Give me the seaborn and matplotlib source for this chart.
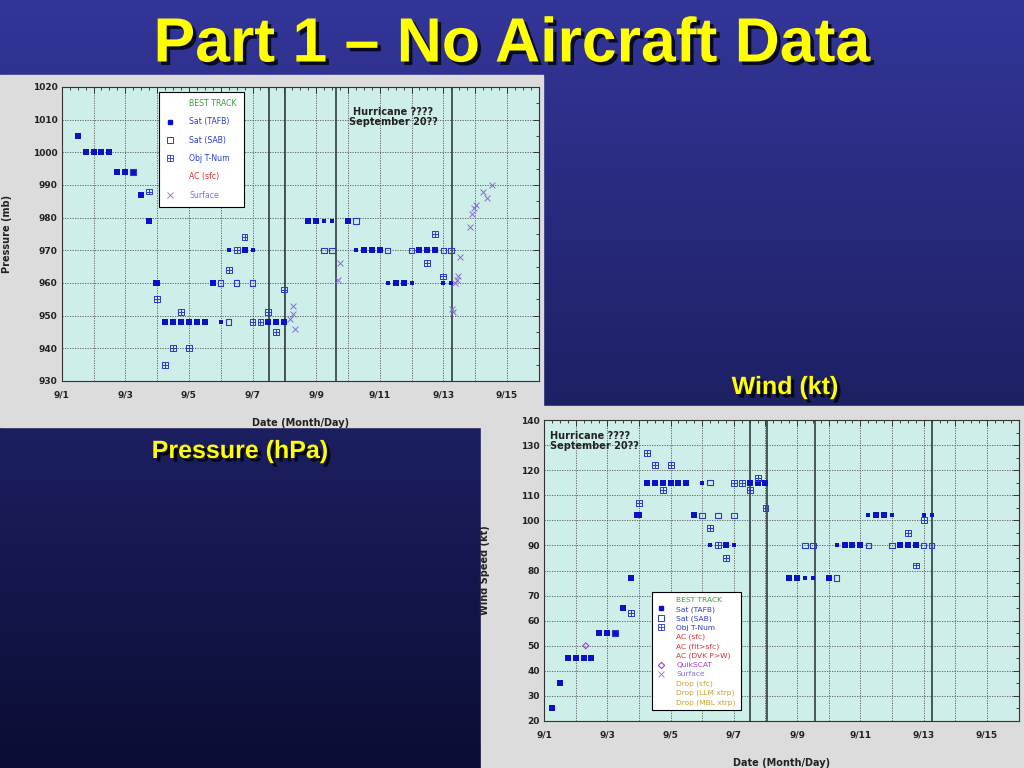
import numpy as np
import matplotlib
matplotlib.use('Agg')
import matplotlib.pyplot as plt
import matplotlib.patheffects as pe
from matplotlib.path import Path
from matplotlib.patches import Rectangle
from matplotlib.lines import Line2D
from matplotlib.ticker import MultipleLocator, FixedLocator, FuncFormatter
import seaborn as sns

sns.set_theme(style='white')
plt.rcParams['font.family'] = ['DejaVu Sans']

# ---- data (day of September, value) ----
# pressure (mb)
p_big_t = [1.5, 1.75, 2.0, 2.25, 2.5, 2.75, 3.0, 3.25, 3.5, 3.75, 3.95, 4.0, 4.25, 4.5, 4.75, 5.0, 5.25, 5.5,
           5.75, 6.75, 7.5, 7.75, 8.0, 8.75, 9.0, 10.0, 10.5, 10.75, 11.0, 11.5, 11.75, 12.25, 12.5, 12.75]
p_big_v = [1005, 1000, 1000, 1000, 1000, 994, 994, 994, 987, 979, 960, 960, 948, 948, 948, 948, 948, 948,
           960, 970, 948, 948, 948, 979, 979, 979, 970, 970, 970, 960, 960, 970, 970, 970]
p_tafb_t = [6.0, 6.25, 7.0, 9.25, 9.5, 10.25, 11.25, 12.0, 13.0, 13.25]
p_tafb_v = [948, 970, 970, 979, 979, 970, 960, 960, 960, 960]
p_sab_t = [3.25, 6.0, 6.25, 6.5, 7.0, 9.25, 9.5, 10.25, 11.25, 12.0, 13.0, 13.25]
p_sab_v = [994, 960, 948, 960, 960, 970, 970, 979, 970, 970, 970, 970]
p_obj_t = [3.75, 4.0, 4.25, 4.5, 4.75, 5.0, 6.25, 6.5, 6.75, 7.0, 7.25, 7.5, 7.75, 8.0, 12.5, 12.75, 13.0]
p_obj_v = [988, 955, 935, 940, 951, 940, 964, 970, 974, 948, 948, 951, 945, 958, 966, 975, 962]
p_sfc_t = [8.18, 8.26, 8.26, 8.34, 9.7, 9.75, 13.26, 13.3, 13.37, 13.42, 13.47, 13.53,
           13.84, 13.9, 13.96, 14.02, 14.26, 14.36, 14.52]
p_sfc_v = [949, 950.5, 953, 946, 961, 966, 952, 951, 960, 961, 962, 968,
           977, 981, 983, 984, 988, 986, 990]

# wind (kt)
w_big_t = [1.25, 1.5, 1.75, 2.0, 2.25, 2.5, 2.75, 3.0, 3.25, 3.5, 3.75, 3.95, 4.0, 4.25, 4.5, 4.75, 5.0, 5.25,
           5.5, 5.75, 6.75, 7.5, 7.75, 8.0, 8.75, 9.0, 10.0, 10.5, 10.75, 11.0, 11.5, 11.75, 12.25, 12.5, 12.75]
w_big_v = [25, 35, 45, 45, 45, 45, 55, 55, 55, 65, 77, 102, 102, 115, 115, 115, 115, 115,
           115, 102, 90, 115, 115, 115, 77, 77, 77, 90, 90, 90, 102, 102, 90, 90, 90]
w_tafb_t = [6.0, 6.25, 7.0, 9.25, 9.5, 10.25, 11.25, 12.0, 13.0, 13.25]
w_tafb_v = [115, 90, 90, 77, 77, 90, 102, 102, 102, 102]
w_sab_t = [3.25, 6.0, 6.25, 6.5, 7.0, 9.25, 9.5, 10.25, 11.25, 12.0, 13.0, 13.25]
w_sab_v = [55, 102, 115, 102, 102, 90, 90, 77, 90, 90, 90, 90]
w_obj_t = [3.75, 4.0, 4.25, 4.5, 4.75, 5.0, 6.25, 6.5, 6.75, 7.0, 7.25, 7.5, 7.75, 8.0, 12.5, 12.75, 13.0]
w_obj_v = [63, 107, 127, 122, 112, 122, 97, 90, 85, 115, 115, 112, 117, 105, 95, 82, 100]
w_qs_t = [2.32]
w_qs_v = [50]

# vertical reference lines (days)
p_vlines = [7.52, 8.02, 9.63, 13.27]
w_vlines = [7.52, 8.05, 9.57, 13.27]

p_legend = ['BEST TRACK', 'Sat (TAFB)', 'Sat (SAB)', 'Obj T-Num', 'AC (sfc)', 'Surface']
w_legend = ['BEST TRACK', 'Sat (TAFB)', 'Sat (SAB)', 'Obj T-Num', 'AC (sfc)', 'AC (flt>sfc)',
            'AC (DVK P>W)', 'QuikSCAT', 'Surface', 'Drop (sfc)', 'Drop (LLM xtrp)', 'Drop (MBL xtrp)']

blue_fill = '#0a12c8'
blue_open = '#2a3ad0'
violet = '#8a6ad8'
purple = '#a040d0'
green = '#3a9a3a'
red = '#e03030'
gold = '#c8a030'

obj_marker = Path([(-1, -1), (1, -1), (1, 1), (-1, 1), (-1, -1), (-1, 0), (1, 0), (0, -1), (0, 1)],
                  [Path.MOVETO, Path.LINETO, Path.LINETO, Path.LINETO, Path.CLOSEPOLY,
                   Path.MOVETO, Path.LINETO, Path.MOVETO, Path.LINETO])

fig = plt.figure(figsize=(10.24, 7.68), dpi=100)

# slide background in pixel coords
bg = fig.add_axes([0, 0, 1, 1])
bg.set_xlim(0, 1024)
bg.set_ylim(768, 0)
bg.axis('off')
top = np.array([0.20, 0.21, 0.60])
bot = np.array([0.04, 0.05, 0.20])
f = np.linspace(0, 1, 768)[:, None]
grad = (top * (1 - f) + bot * f)[:, None, :]
bg.imshow(grad, extent=(0, 1024, 768, 0), aspect='auto', zorder=0)
bg.add_patch(Rectangle((0, 75), 543, 352, color='#dcdcdc', zorder=1))
bg.add_patch(Rectangle((481, 406), 543, 362, color='#dcdcdc', zorder=1))

shadow = [pe.SimplePatchShadow(offset=(2.5, -2.5), shadow_rgbFace='black', alpha=0.8), pe.Normal()]
bg.text(512, 45, 'Part 1 \u2013 No Aircraft Data', color='#ffff00', fontsize=45, fontweight='bold',
        family='Liberation Sans', ha='center', va='center', zorder=2, path_effects=shadow)
bg.text(240, 451, 'Pressure (hPa)', color='#ffff00', fontsize=18, fontweight='bold',
        family='Liberation Sans', ha='center', va='center', zorder=2, path_effects=shadow)
bg.text(785, 387, 'Wind (kt)', color='#ffff00', fontsize=18, fontweight='bold',
        family='Liberation Sans', ha='center', va='center', zorder=2, path_effects=shadow)


def style_axes(ax, ylo, yhi, vlines, ylabel):
    ax.set_facecolor('#cdeee9')
    ax.set_xlim(1, 16)
    ax.set_ylim(ylo, yhi)
    ax.xaxis.set_major_locator(FixedLocator(range(1, 17)))
    ax.xaxis.set_minor_locator(MultipleLocator(0.25))
    ax.xaxis.set_major_formatter(FuncFormatter(lambda v, p: f'9/{int(v)}' if int(v) % 2 == 1 else ''))
    ax.yaxis.set_major_locator(MultipleLocator(10))
    ax.yaxis.set_minor_locator(MultipleLocator(5))
    ax.tick_params(which='major', direction='in', top=True, right=True, length=4, width=0.6,
                   labelsize=6.5, colors='#222222', pad=7)
    ax.tick_params(axis='y', which='major', pad=3)
    ax.tick_params(which='minor', direction='in', top=True, right=True, length=2.5, width=0.6)
    for lab in ax.get_xticklabels() + ax.get_yticklabels():
        lab.set_fontweight('bold')
    ax.grid(True, which='major', color='#555555', linestyle=(0, (1.5, 1.5)), linewidth=0.6)
    for sp in ax.spines.values():
        sp.set_color('#333333')
        sp.set_linewidth(0.8)
    for v in vlines:
        ax.axvline(v, color='#2f3f3f', linewidth=1.2, zorder=2)
    ax.set_xlabel('Date (Month/Day)', fontsize=7, fontweight='bold', color='#222222')
    ax.set_ylabel(ylabel, fontsize=7, fontweight='bold', color='#222222')


def draw_points(ax, big_t, big_v, tafb_t, tafb_v, sab_t, sab_v, obj_t, obj_v):
    sns.scatterplot(x=big_t, y=big_v, ax=ax, marker='s', s=21, color=blue_fill, linewidth=0, zorder=4)
    sns.scatterplot(x=tafb_t, y=tafb_v, ax=ax, marker='s', s=8, color=blue_fill, linewidth=0, zorder=5)
    sns.scatterplot(x=sab_t, y=sab_v, ax=ax, marker='s', s=16, facecolor='none', edgecolor=blue_open,
                    linewidth=0.8, zorder=5)
    sns.scatterplot(x=obj_t, y=obj_v, ax=ax, marker=obj_marker, s=18, facecolor='none',
                    edgecolor=blue_open, linewidth=0.7, zorder=5)


# ---- pressure chart ----
axp = fig.add_axes([61.7 / 1024, 1 - 381 / 768, 477 / 1024, 294 / 768])
style_axes(axp, 930, 1020, p_vlines, 'Pressure (mb)')
draw_points(axp, p_big_t, p_big_v, p_tafb_t, p_tafb_v, p_sab_t, p_sab_v, p_obj_t, p_obj_v)
sns.scatterplot(x=p_sfc_t, y=p_sfc_v, ax=axp, marker='x', s=18, color=violet, linewidth=0.7, zorder=5)
axp.xaxis.set_label_coords(0.5, -0.126)
axp.yaxis.set_label_coords(-0.104, 0.5)
axp.text(0.695, 0.898, 'Hurricane ????\nSeptember 20??', transform=axp.transAxes, ha='center',
         va='center', fontsize=7, fontweight='bold', color='#222222', linespacing=1.1)


def legend_handles(labels):
    hs = []
    for lab in labels:
        if lab.startswith('Sat (TAFB)'):
            h = Line2D([], [], linestyle='none', marker='s', markersize=2.8, color=blue_fill)
        elif lab.startswith('Sat (SAB)'):
            h = Line2D([], [], linestyle='none', marker='s', markersize=4, markerfacecolor='none',
                       markeredgecolor=blue_open, markeredgewidth=0.7)
        elif lab.startswith('Obj'):
            h = Line2D([], [], linestyle='none', marker=obj_marker, markersize=4.5, markerfacecolor='none',
                       markeredgecolor=blue_open, markeredgewidth=0.6)
        elif lab == 'QuikSCAT':
            h = Line2D([], [], linestyle='none', marker=(4, 0, 0), markersize=4.5, markerfacecolor='none',
                       markeredgecolor=purple, markeredgewidth=0.8)
        elif lab == 'Surface':
            h = Line2D([], [], linestyle='none', marker='x', markersize=4, color=violet, markeredgewidth=0.6)
        else:
            h = Line2D([], [], linestyle='none')
        hs.append(h)
    return hs


def label_colors(labels):
    cols = []
    for lab in labels:
        if lab == 'BEST TRACK':
            cols.append(green)
        elif lab.startswith('Sat') or lab.startswith('Obj'):
            cols.append(blue_open)
        elif lab.startswith('AC'):
            cols.append(red)
        elif lab == 'QuikSCAT':
            cols.append(purple)
        elif lab == 'Surface':
            cols.append(violet)
        else:
            cols.append(gold)
    return cols


leg = axp.legend(legend_handles(p_legend), p_legend, labelcolor=label_colors(p_legend), loc='upper left',
                 bbox_to_anchor=(0.204, 0.983), fontsize=5.6, labelspacing=1.2, handlelength=1.0,
                 handletextpad=2.0, borderpad=0.9, borderaxespad=0, fancybox=False, edgecolor='black',
                 framealpha=1)
leg.get_frame().set_linewidth(0.8)
leg.set_zorder(10)

# ---- wind chart ----
axw = fig.add_axes([544 / 1024, 1 - 721 / 768, 474.6 / 1024, 301 / 768])
style_axes(axw, 20, 140, w_vlines, 'Wind Speed (kt)')
draw_points(axw, w_big_t, w_big_v, w_tafb_t, w_tafb_v, w_sab_t, w_sab_v, w_obj_t, w_obj_v)
sns.scatterplot(x=w_qs_t, y=w_qs_v, ax=axw, marker=(4, 0, 0), s=18, facecolor='none', edgecolor=purple,
                linewidth=0.8, zorder=5)
axw.xaxis.set_label_coords(0.5, -0.123)
axw.yaxis.set_label_coords(-0.114, 0.5)
axw.text(0.012, 0.93, 'Hurricane ????\nSeptember 20??', transform=axw.transAxes, ha='left',
         va='center', fontsize=7, fontweight='bold', color='#222222', linespacing=1.1)
leg = axw.legend(legend_handles(w_legend), w_legend, labelcolor=label_colors(w_legend), loc='upper left',
                 bbox_to_anchor=(0.2276, 0.4286), fontsize=5.4, labelspacing=0.36, handlelength=1.0,
                 handletextpad=1.6, borderpad=0.65, borderaxespad=0, fancybox=False, edgecolor='black',
                 framealpha=1)
leg.get_frame().set_linewidth(0.8)
leg.set_zorder(10)

fig.savefig('out.png', dpi=100)
